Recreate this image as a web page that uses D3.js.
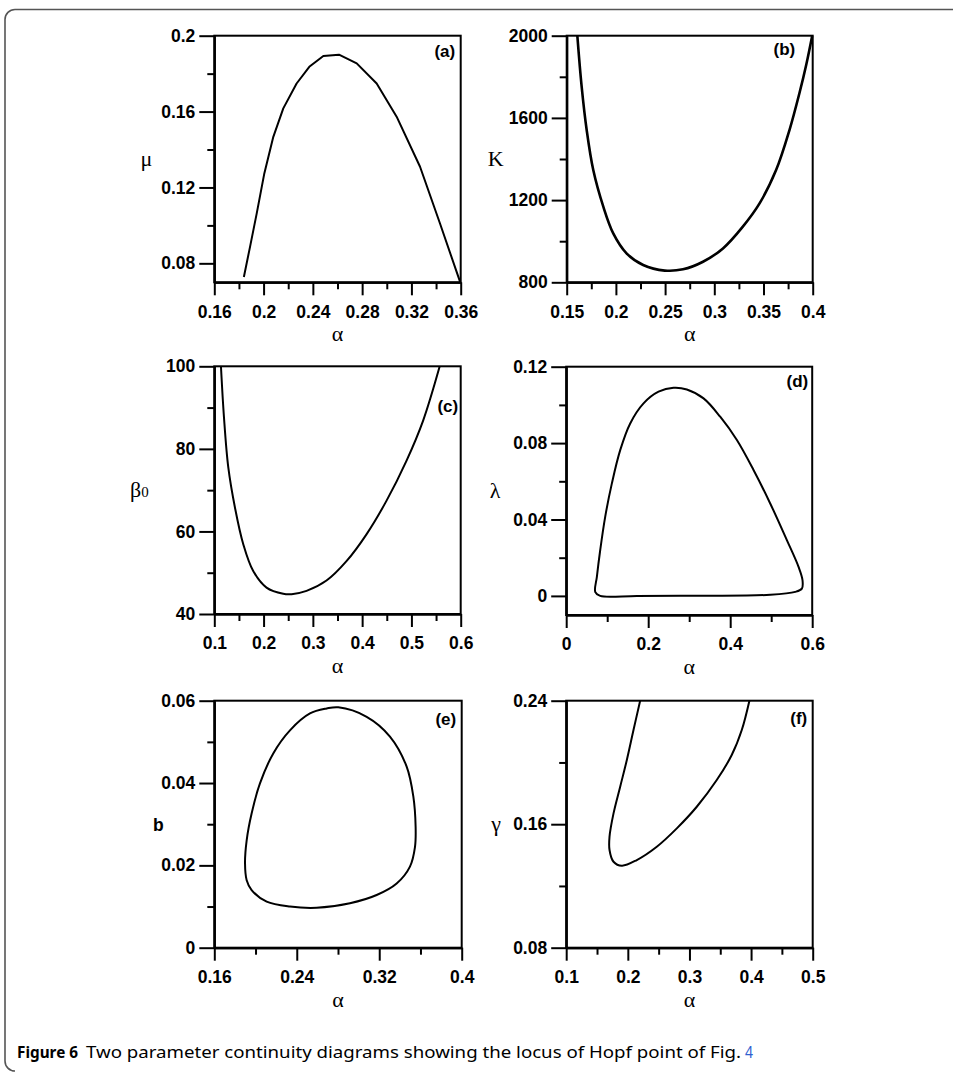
<!DOCTYPE html>
<html>
<head>
<meta charset="utf-8">
<script src="https://cdn.jsdelivr.net/npm/d3@7"></script>
<style>
  body { margin: 0; background: #fff; }
  svg { display: block; }
  .tick text { font-family: "Liberation Sans", Arial, sans-serif; font-weight: bold; font-size: 17.5px; fill: #000; }
</style>
</head>
<body>
<div id="chart"></div>
<script>
// (a) mu vs alpha
const alphaA = [0.184, 0.189, 0.1944, 0.2006, 0.2079, 0.216, 0.2268, 0.2371, 0.2485, 0.2612, 0.2756, 0.2918, 0.308, 0.327, 0.3432, 0.3595];
const muA = [0.0728, 0.0887, 0.1062, 0.1274, 0.1467, 0.1617, 0.1748, 0.1836, 0.1893, 0.19, 0.1854, 0.1748, 0.1573, 0.1309, 0.101, 0.0702];
const xTicksA = [0.16, 0.2, 0.24, 0.28, 0.32, 0.36], xMinorA = [0.18, 0.22, 0.26, 0.30, 0.34];
const yTicksA = [0.08, 0.12, 0.16, 0.2], yMinorA = [0.10, 0.14, 0.18];

// (b) K vs alpha
const alphaB = [0.1608, 0.1652, 0.1703, 0.177, 0.1872, 0.1973, 0.2108, 0.2277, 0.2497, 0.2682, 0.2885, 0.3088, 0.329, 0.346, 0.3628, 0.3764, 0.3865, 0.3935, 0.3995];
const kB = [2000, 1752, 1541, 1346, 1168, 1038, 941, 884, 857, 863, 900, 965, 1071, 1184, 1346, 1541, 1720, 1860, 2000];
const xTicksB = [0.15, 0.2, 0.25, 0.3, 0.35, 0.4], xMinorB = [0.175, 0.225, 0.275, 0.325, 0.375];
const yTicksB = [800, 1200, 1600, 2000], yMinorB = [1000, 1400, 1800];

// (c) beta0 vs alpha
const alphaC = [0.1135, 0.1196, 0.1284, 0.1419, 0.1588, 0.179, 0.206, 0.2399, 0.2568, 0.2872, 0.3277, 0.3682, 0.4088, 0.4493, 0.4899, 0.5236, 0.5574];
const betaC = [100, 87.7, 75.5, 65.8, 56.9, 50.4, 46.4, 44.9, 44.8, 45.6, 48.1, 52.8, 59.3, 67.4, 77.1, 86.8, 100];
const xTicksC = [0.1, 0.2, 0.3, 0.4, 0.5, 0.6], xMinorC = [0.15, 0.25, 0.35, 0.45, 0.55];
const yTicksC = [40, 60, 80, 100], yMinorC = [50, 70, 90];

// (d) lambda vs alpha (closed loop)
const alphaD = [0.071, 0.0748, 0.0829, 0.0951, 0.1114, 0.1317, 0.1561, 0.1886, 0.2252, 0.2618, 0.2943, 0.335, 0.3756, 0.4163, 0.4569, 0.4976, 0.5382, 0.5667, 0.5764, 0.5748, 0.5585, 0.4976, 0.335, 0.1724, 0.0829];
const lambdaD = [0.002, 0.0100, 0.0239, 0.0414, 0.0589, 0.0763, 0.0903, 0.1008, 0.1069, 0.109, 0.1081, 0.1034, 0.0938, 0.0816, 0.0659, 0.0484, 0.0292, 0.0152, 0.0082, 0.0038, 0.0021, 0.0006, 0.0001, 0.0, 0.0];
const xTicksD = [0, 0.2, 0.4, 0.6], xMinorD = [0.1, 0.3, 0.5];
const yTicksD = [0, 0.04, 0.08, 0.12], yMinorD = [0.02, 0.06, 0.10];

// (e) b vs alpha (closed loop)
const alphaE = [0.2803, 0.3078, 0.3304, 0.3466, 0.3531, 0.3553, 0.3547, 0.3498, 0.3369, 0.3175, 0.2916, 0.2593, 0.2334, 0.2108, 0.1962, 0.1914, 0.1898, 0.1914, 0.1962, 0.2043, 0.2172, 0.2334, 0.2528, 0.269];
const bE = [0.0584, 0.0561, 0.0513, 0.044, 0.0367, 0.0294, 0.0245, 0.0197, 0.0156, 0.0128, 0.0108, 0.0097, 0.01, 0.0112, 0.014, 0.0164, 0.0205, 0.0261, 0.0326, 0.0399, 0.0472, 0.0528, 0.0569, 0.0581];
const xTicksE = [0.16, 0.24, 0.32, 0.4], xMinorE = [0.2, 0.28, 0.36];
const yTicksE = [0, 0.02, 0.04, 0.06], yMinorE = [0.01, 0.03, 0.05];

// (f) gamma vs alpha
const alphaF = [0.22, 0.2092, 0.1984, 0.1876, 0.1768, 0.1703, 0.1703, 0.1768, 0.1903, 0.2146, 0.247, 0.2795, 0.3119, 0.3443, 0.3686, 0.3849, 0.3973];
const gammaF = [0.24, 0.221, 0.2016, 0.1843, 0.167, 0.1519, 0.1433, 0.1357, 0.1331, 0.1368, 0.1454, 0.1573, 0.1713, 0.1886, 0.2048, 0.221, 0.24];
const xTicksF = [0.1, 0.2, 0.3, 0.4, 0.5], xMinorF = [0.15, 0.25, 0.35, 0.45];
const yTicksF = [0.08, 0.16, 0.24], yMinorF = [0.12, 0.2];

const W = 953, H = 1072;
const fmt = d => String(+d.toFixed(4));

const svg = d3.select("#chart").append("svg")
  .attr("width", W).attr("height", H);

// outer figure frame
svg.append("path")
  .attr("d", "M953,9.5 H15 A10,10 0 0 0 5,19.5 V1061 A10,10 0 0 0 15,1071")
  .attr("fill", "none").attr("stroke", "#555").attr("stroke-width", 1.6);

const panels = [
  { tag: "(a)", left: 214.3, top: 35.7, w: 246.4, h: 246.6, xd: [0.16, 0.36], yd: [0.07, 0.2],
    xs: alphaA, ys: muA, xt: xTicksA, xm: xMinorA, yt: yTicksA, ym: yMinorA, curve: d3.curveLinear,
    ylab: "μ", ylx: -68, tagdx: -5.5, tagdy: 21.5 },
  { tag: "(b)", left: 566.7, top: 35.7, w: 246, h: 246.6, xd: [0.15, 0.4], yd: [800, 2000],
    xs: alphaB, ys: kB, xt: xTicksB, xm: xMinorB, yt: yTicksB, ym: yMinorB, curve: d3.curveCatmullRom,
    ylab: "K", ylx: -71, tagdx: -17.5, tagdy: 19.5, sw: 2.6 },
  { tag: "(c)", left: 214.3, top: 366.3, w: 246.4, h: 247.7, xd: [0.1, 0.6], yd: [40, 100],
    xs: alphaC, ys: betaC, xt: xTicksC, xm: xMinorC, yt: yTicksC, ym: yMinorC, curve: d3.curveCatmullRom,
    ylab: "β", ylsub: "0", ylx: -75, tagdx: -2.5, tagdy: 46 },
  { tag: "(d)", left: 566.2, top: 366.7, w: 246, h: 248.3, xd: [0, 0.6], yd: [-0.01, 0.12],
    xs: alphaD, ys: lambdaD, xt: xTicksD, xm: xMinorD, yt: yTicksD, ym: yMinorD, curve: d3.curveCatmullRomClosed,
    ylab: "λ", ylx: -71, tagdx: -4, tagdy: 20 },
  { tag: "(e)", left: 214.3, top: 700.7, w: 247.4, h: 247, xd: [0.16, 0.4], yd: [0, 0.06],
    xs: alphaE, ys: bE, xt: xTicksE, xm: xMinorE, yt: yTicksE, ym: yMinorE, curve: d3.curveCatmullRomClosed,
    ylab: "b", ylsans: true, ylx: -56, tagdx: -5.5, tagdy: 24.5 },
  { tag: "(f)", left: 566.2, top: 700.7, w: 246.5, h: 247, xd: [0.1, 0.5], yd: [0.08, 0.24],
    xs: alphaF, ys: gammaF, xt: xTicksF, xm: xMinorF, yt: yTicksF, ym: yMinorF, curve: d3.curveCatmullRom,
    ylab: "γ", ylx: -70, tagdx: -5.5, tagdy: 23.5 }
];

panels.forEach((p, i) => {
  const g = svg.append("g").attr("transform", `translate(${p.left},${p.top})`);
  const x = d3.scaleLinear().domain(p.xd).range([0, p.w]);
  const y = d3.scaleLinear().domain(p.yd).range([p.h, 0]);

  // minor ticks first, then major with labels
  g.append("g").attr("transform", `translate(0,${p.h})`)
    .call(d3.axisBottom(x).tickValues(p.xm).tickSize(7).tickSizeOuter(0).tickFormat(""));
  g.append("g").attr("transform", `translate(0,${p.h})`)
    .call(d3.axisBottom(x).tickValues(p.xt).tickSize(13).tickSizeOuter(0).tickPadding(10).tickFormat(fmt));
  g.append("g")
    .call(d3.axisLeft(y).tickValues(p.ym).tickSize(7).tickSizeOuter(0).tickFormat(""));
  g.append("g")
    .call(d3.axisLeft(y).tickValues(p.yt).tickSize(15).tickSizeOuter(0).tickPadding(4).tickFormat(fmt));

  g.selectAll(".domain, .tick line").attr("stroke", "#000").attr("stroke-width", 2);

  // box
  g.append("rect").attr("width", p.w).attr("height", p.h)
    .attr("fill", "none").attr("stroke", "#000").attr("stroke-width", 2);

  // curve
  const clipId = "clip" + i;
  g.append("clipPath").attr("id", clipId)
    .append("rect").attr("x", -1).attr("y", -1).attr("width", p.w + 2).attr("height", p.h + 2);
  const pts = p.xs.map((v, k) => [v, p.ys[k]]);
  const line = d3.line().x(d => x(d[0])).y(d => y(d[1])).curve(p.curve);
  g.append("path").datum(pts)
    .attr("clip-path", `url(#${clipId})`)
    .attr("d", line)
    .attr("fill", "none").attr("stroke", "#000")
    .attr("stroke-width", p.sw || 2).attr("stroke-linejoin", "round");

  // panel tag
  g.append("text").attr("x", p.w + p.tagdx).attr("y", p.tagdy)
    .attr("text-anchor", "end")
    .style("font-family", "Liberation Sans, Arial, sans-serif")
    .style("font-weight", "bold").style("font-size", "17px")
    .text(p.tag);

  // x label
  g.append("text").attr("x", p.w / 2).attr("y", p.h + 59)
    .attr("text-anchor", "middle")
    .style("font-family", "Liberation Serif, Times New Roman, serif")
    .style("font-size", "22px")
    .text("α");

  // y label
  const yl = g.append("text").attr("x", p.ylx).attr("y", p.h / 2 + 7)
    .attr("text-anchor", "middle");
  if (p.ylsans) {
    yl.style("font-family", "Liberation Sans, Arial, sans-serif")
      .style("font-weight", "bold").style("font-size", "17.5px").text(p.ylab);
  } else {
    yl.style("font-family", "Liberation Serif, Times New Roman, serif")
      .style("font-size", "22px").text(p.ylab);
    if (p.ylsub) yl.append("tspan").style("font-size", "15px").text(p.ylsub);
  }
});

// caption
const cap = svg.append("g").style("font-family", "Noto Sans, Open Sans, sans-serif").style("font-size", "16px");
cap.append("text").attr("x", 17).attr("y", 1058)
  .style("font-weight", "bold")
  .attr("textLength", 61).attr("lengthAdjust", "spacingAndGlyphs")
  .text("Figure 6");
cap.append("text").attr("x", 86).attr("y", 1058)
  .attr("textLength", 655).attr("lengthAdjust", "spacingAndGlyphs")
  .text("Two parameter continuity diagrams showing the locus of Hopf point of Fig.");
cap.append("text").attr("x", 745).attr("y", 1058)
  .attr("textLength", 8).attr("lengthAdjust", "spacingAndGlyphs")
  .attr("fill", "#2f5fd0")
  .text("4");
</script>
</body>
</html>
